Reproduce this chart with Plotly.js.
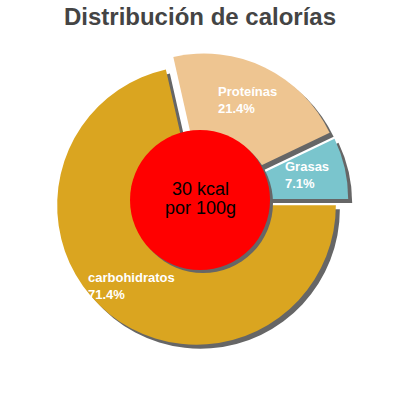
<!DOCTYPE html>
<html>
<head>
<meta charset="utf-8">
<script src="https://cdn.plot.ly/plotly-3.0.1.min.js"></script>
<style>
  html, body { margin: 0; padding: 0; background: #fff; }
  #graphDiv { width: 400px; height: 400px; }
</style>
</head>
<body>
<div id="graphDiv"></div>
<script>
// datos
const labels = ['carbohidratos', 'Proteínas', 'Grasas'];
const percents = [71.4, 21.4, 7.1];
const colors = ['#daa520', '#eec591', '#7ac5cd'];
const pulls = [0.04, 0.065, 0.065];
const kcal = 30;

drawGraph();

function drawGraph(){
    const domX = [0.129, 0.871];
    const domY = [0.126, 0.869];
    const off = 0.01; // sombra ~4px

    // sombra gris detras
    const shadow = {
      type: 'pie',
      values: percents,
      labels: labels,
      sort: false,
      direction: 'clockwise',
      rotation: 90,
      pull: pulls,
      marker: {colors: labels.map(() => '#666666'), line: {width: 0}},
      textinfo: 'none',
      hoverinfo: 'none',
      showlegend: false,
      domain: {x: [domX[0] + off, domX[1] + off], y: [domY[0] - off, domY[1] - off]}
    };

    const pie = {
      type: 'pie',
      values: percents,
      labels: labels,
      sort: false,
      direction: 'clockwise',
      rotation: 90,
      pull: pulls,
      marker: {colors: colors, line: {width: 0}},
      textinfo: 'none',
      hoverinfo: 'none',
      showlegend: false,
      domain: {x: domX, y: domY}
    };

    // posiciones de las etiquetas (px, centro del bloque)
    const labelPos = [[87, 285.5], [217, 100.5], [284, 174.5]];
    const lblFont = {family: 'Liberation Sans, Arial, sans-serif', size: 13, color: '#ffffff', weight: 'bold'};

    let annotations = [];
    labels.forEach((l, i) => {
      const [px, py] = labelPos[i];
      annotations.push({
        text: l + '<br>' + percents[i].toFixed(1) + '%',
        x: px / 400, y: 1 - py / 400, xref: 'paper', yref: 'paper',
        xanchor: 'left', yanchor: 'middle', align: 'left', borderpad: 0,
        showarrow: false, font: lblFont
      });
    });

    const centerFont = {family: 'Liberation Sans, Arial, sans-serif', size: 18, color: '#000000'};
    annotations.push({
      text: kcal + ' kcal', x: 0.5, y: 1 - 189 / 400, xref: 'paper', yref: 'paper',
      xanchor: 'center', yanchor: 'middle', showarrow: false, font: centerFont
    });
    annotations.push({
      text: 'por 100g', x: 0.5, y: 1 - 208 / 400, xref: 'paper', yref: 'paper',
      xanchor: 'center', yanchor: 'middle', showarrow: false, font: centerFont
    });

    let layout = {
      width: 400,
      height: 400,
      margin: {l: 0, r: 0, t: 0, b: 0},
      paper_bgcolor: '#ffffff',
      title: {
        text: '<b>Distribución de calorías</b>',
        x: 0.5,
        xanchor: 'center',
        y: 1 - 17 / 400,
        yref: 'container',
        yanchor: 'middle',
        font: {family: 'Liberation Sans, Arial, sans-serif', size: 24, color: '#444444'}
      },
      shapes: [
        {type: 'circle', xref: 'paper', yref: 'paper', layer: 'above',
         x0: 133 / 400, x1: 273 / 400, y0: 1 - 273 / 400, y1: 1 - 133 / 400,
         fillcolor: '#666666', line: {width: 0}},
        {type: 'circle', xref: 'paper', yref: 'paper', layer: 'above',
         x0: 130 / 400, x1: 270 / 400, y0: 1 - 270 / 400, y1: 1 - 130 / 400,
         fillcolor: '#ff0000', line: {width: 0}}
      ],
      annotations: annotations
    };

    Plotly.newPlot('graphDiv', [shadow, pie], layout, {staticPlot: true});
}
</script>
</body>
</html>
